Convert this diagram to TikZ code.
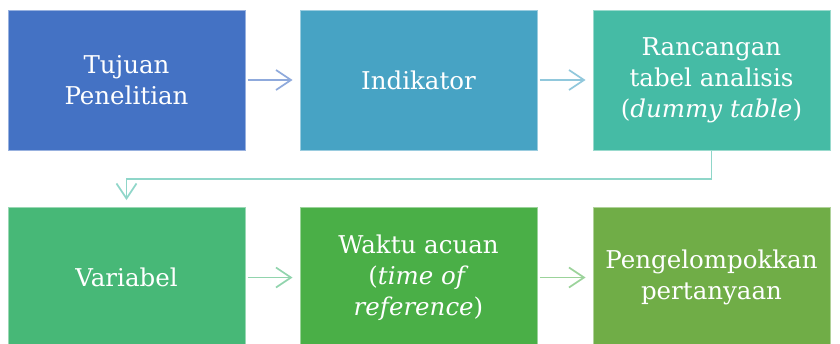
\documentclass[tikz,border=0pt]{standalone}
\usepackage{fontspec}
\setmainfont{DejaVu Serif}
\usetikzlibrary{arrows.meta,calc}

\definecolor{cA}{HTML}{4472C4}
\definecolor{cB}{HTML}{47A3C4}
\definecolor{cC}{HTML}{45BBA5}
\definecolor{cD}{HTML}{47B877}
\definecolor{cE}{HTML}{4AAF47}
\definecolor{cF}{HTML}{70AD47}

\tikzset{
  stepbox/.style={rectangle, minimum width=237pt, minimum height=140pt,
    inner sep=0pt, text=white, align=center, line width=1pt,
    font=\fontsize{24.5}{31}\selectfont},
  flow/.style={line width=1.7pt, -{Straight Barb[length=15pt,width=20pt,line width=1.7pt]},
    shorten <=2pt, shorten >=7pt},
}

\begin{document}
\begin{tikzpicture}[x=1pt,y=-1pt]
\useasboundingbox (0,0) rectangle (840,343);
\clip (0,0) rectangle (840,343);

% top row
\node[stepbox, fill=cA, draw=cA!55!white] (b1) at (126.5,80) {Tujuan\\Penelitian};
\node[stepbox, fill=cB, draw=cB!55!white] (b2) at (418.5,80) {Indikator};
\node[stepbox, fill=cC, draw=cC!55!white] (b3) at (711.5,80) {Rancangan\\tabel analisis\\(\textit{dummy table})};

% bottom row
\node[stepbox, fill=cD, draw=cD!55!white] (b4) at (126.5,277.5) {Variabel};
\node[stepbox, fill=cE, draw=cE!55!white] (b5) at (418.5,277.5) {Waktu acuan\\(\textit{time of}\\\textit{reference})};
\node[stepbox, fill=cF, draw=cF!55!white] (b6) at (711.5,277.5) {Pengelompokkan\\pertanyaan};

% connectors
\draw[flow, draw=cA!60!white] (b1) -- (b2);
\draw[flow, draw=cB!60!white] (b2) -- (b3);
\coordinate (turn) at ($(b3.south)!0.5!(b6.north)$);
\draw[flow, draw=cC!60!white, shorten <=0pt] (b3.south) -- (b3.south |- turn) -| (b4.north);
\draw[flow, draw=cD!60!white] (b4) -- (b5);
\draw[flow, draw=cE!55!white] (b5) -- (b6);
\end{tikzpicture}
\end{document}
